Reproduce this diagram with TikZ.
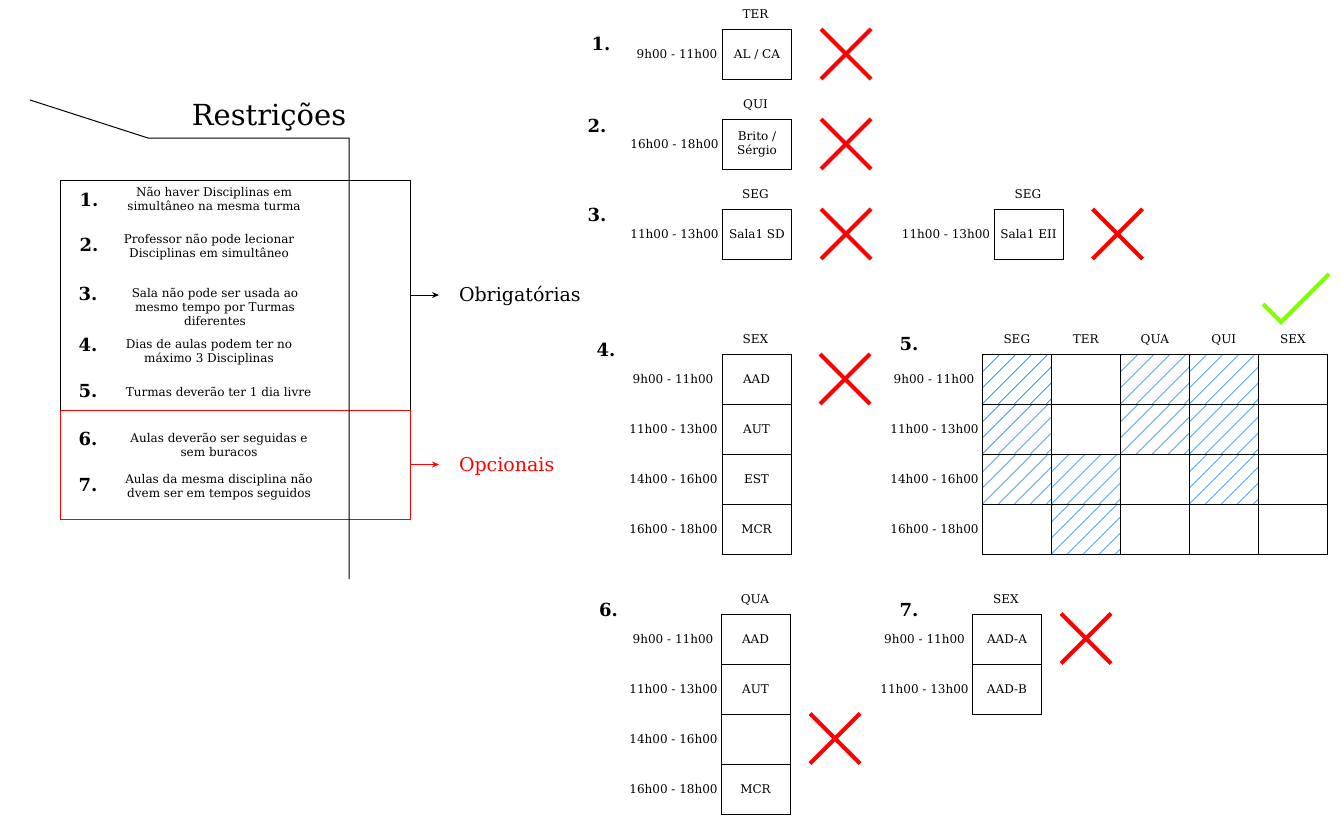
\documentclass[tikz,border=0pt]{standalone}
\usepackage{fontspec}
\setmainfont{DejaVu Serif}
\usetikzlibrary{arrows.meta,shapes.misc}
\definecolor{chk}{RGB}{128,255,0}
\definecolor{hatchblue}{RGB}{51,153,255}
\newcommand\hatchcell[2]{%
  \begin{scope}
    \clip (#1,#2) rectangle ++(69,50);
    \foreach \k in {-4,...,5} \draw[hatchln] (#1+\k*16,#2+50) -- ++(62,-62);
  \end{scope}}
\begin{document}
\begin{tikzpicture}[x=1pt,y=-1pt,line width=1pt,
  every node/.style={inner sep=0pt,outer sep=0pt},
  f12/.style={font=\fontsize{12}{14}\selectfont},
  lbl/.style={f12,text height=8.8pt,text depth=0pt},
  numlbl/.style={font=\fontsize{18}{20}\selectfont\bfseries,text height=13.1pt,text depth=0pt},
  itemtxt/.style={f12,align=center},
  biglbl/.style={font=\fontsize{19}{22}\selectfont,text height=13.9pt,text depth=0pt,anchor=west},
  cell/.style={draw,line width=1pt,minimum width=69pt,minimum height=50pt,f12,align=center},
  cellt/.style={cell,text height=8.8pt,text depth=0pt},
  xmark/.style={cross out,draw=red,line width=4pt,minimum size=50pt},
  hatchln/.style={draw=hatchblue,line width=0.8pt},
  arr/.style={-{Stealth[length=7pt,width=6pt]},shorten >=20pt}]
\useasboundingbox (0,0) rectangle (1342,822);

% ---------- left part ----------
\node[font=\fontsize{29}{34}\selectfont,anchor=base] (title) at (269,125) {Restrições};
\node[draw,minimum width=350pt,minimum height=230pt] (oblig) at (235,295) {};
\node[draw=red,minimum width=350pt,minimum height=109pt] (opc) at (235,464.5) {};
\draw (30,100) -- (148,138) -- (349,138) -- (349,579);

\node[numlbl] (n1) at (89,199.5) {1.};
\node[itemtxt] (t1) at (214,199) {Não haver Disciplinas em\\simultâneo na mesma turma};
\node[numlbl] (n2) at (89,244.5) {2.};
\node[itemtxt] (t2) at (209,247) {Professor não pode lecionar\\Disciplinas em simultâneo};
\node[numlbl] (n3) at (88,294) {3.};
\node[itemtxt] (t3) at (215,307) {Sala não pode ser usada ao\\mesmo tempo por Turmas\\diferentes};
\node[numlbl] (n4) at (88,344.5) {4.};
\node[itemtxt] (t4) at (209,352.5) {Dias de aulas podem ter no\\máximo 3 Disciplinas};
\node[numlbl] (n5) at (88,391) {5.};
\node[itemtxt] (t5) at (218.5,392) {Turmas deverão ter 1 dia livre};
\node[numlbl] (n6) at (88,439) {6.};
\node[itemtxt] (t6) at (219,444.5) {Aulas deverão ser seguidas e\\sem buracos};
\node[numlbl] (n7) at (88,484.5) {7.};
\node[itemtxt] (t7) at (219,487.5) {Aulas da mesma disciplina não\\dvem ser em tempos seguidos};

\node[biglbl] (oblbl) at (459,294.5) {Obrigatórias};
\node[biglbl,text=red] (oplbl) at (459,464.5) {Opcionais};
\draw[arr] (oblig.east) -- (oblig.east -| oblbl.west);
\draw[arr,red] (opc.east) -- (opc.east -| oplbl.west);

% ---------- item 1 ----------
\node[numlbl] (m1) at (601,44) {1.};
\node[lbl] (d1) at (755.5,14.5) {TER};
\node[lbl] (h1) at (677,54) {9h00 - 11h00};
\node[cellt] (c1) at (757,54) {AL / CA};
\node[xmark] (x1) at (846,54) {};

% ---------- item 2 ----------
\node[numlbl] (m2) at (597,126) {2.};
\node[lbl] (d2) at (755.5,104) {QUI};
\node[lbl] (h2) at (674.5,144) {16h00 - 18h00};
\node[cell] (c2) at (757,144) {Brito /\\Sérgio};
\node[xmark] (x2) at (846,144) {};

% ---------- item 3 ----------
\node[numlbl] (m3) at (597,215) {3.};
\node[lbl] (d3) at (755.5,194) {SEG};
\node[lbl] (h3) at (674.5,234) {11h00 - 13h00};
\node[cellt] (c3) at (757,234) {Sala1 SD};
\node[xmark] (x3) at (846,234) {};
\node[lbl] (d3b) at (1028,194) {SEG};
\node[lbl] (h3b) at (946,234) {11h00 - 13h00};
\node[cellt] (c3b) at (1028.5,234) {Sala1 EII};
\node[xmark] (x3b) at (1117.5,234) {};

% ---------- item 4 ----------
\node[numlbl] (m4) at (606,349.5) {4.};
\node[lbl] (d4) at (755.5,339.5) {SEX};
\node[lbl] (h4a) at (673,379) {9h00 - 11h00};
\node[lbl] (h4b) at (673.5,429) {11h00 - 13h00};
\node[lbl] (h4c) at (673.5,479) {14h00 - 16h00};
\node[lbl] (h4d) at (673.5,529) {16h00 - 18h00};
\node[cellt] (c4a) at (756.5,379) {AAD};
\node[cellt] (c4b) at (756.5,429) {AUT};
\node[cellt] (c4c) at (756.5,479) {EST};
\node[cellt] (c4d) at (756.5,529) {MCR};
\node[xmark] (x4) at (845,379) {};

% ---------- item 5 ----------
\node[numlbl] (m5) at (909,344) {5.};
\node[lbl] (gh0) at (1016.8,339) {SEG};
\node[lbl] (gh1) at (1085.8,339) {TER};
\node[lbl] (gh2) at (1154.8,339) {QUA};
\node[lbl] (gh3) at (1223.8,339) {QUI};
\node[lbl] (gh4) at (1292.8,339) {SEX};
\node[lbl] (h5a) at (934,379) {9h00 - 11h00};
\node[lbl] (h5b) at (934.5,429) {11h00 - 13h00};
\node[lbl] (h5c) at (934.5,479) {14h00 - 16h00};
\node[lbl] (h5d) at (934.5,529) {16h00 - 18h00};
\hatchcell{982.3}{354}
\hatchcell{982.3}{404}
\hatchcell{982.3}{454}
\hatchcell{1051.3}{454}
\hatchcell{1051.3}{504}
\hatchcell{1120.3}{354}
\hatchcell{1120.3}{404}
\hatchcell{1189.3}{354}
\hatchcell{1189.3}{404}
\hatchcell{1189.3}{454}
\foreach \k in {0,...,4}
  \foreach \r in {0,...,3}
    \node[cell] (g\k\r) at (1016.8+69*\k,379+50*\r) {};
\draw[draw=chk,line width=4pt] (1263,304) -- (1281,322) -- (1329,274);

% ---------- item 6 ----------
\node[numlbl] (m6) at (608.5,609.5) {6.};
\node[lbl] (d6) at (755,599.5) {QUA};
\node[lbl] (h6a) at (673,639) {9h00 - 11h00};
\node[lbl] (h6b) at (673.5,689) {11h00 - 13h00};
\node[lbl] (h6c) at (673.5,739) {14h00 - 16h00};
\node[lbl] (h6d) at (673.5,789) {16h00 - 18h00};
\node[cellt] (c6a) at (755.5,639) {AAD};
\node[cellt] (c6b) at (755.5,689) {AUT};
\node[cellt] (c6c) at (755.5,739) {};
\node[cellt] (c6d) at (755.5,789) {MCR};
\node[xmark] (x6) at (835,738.5) {};

% ---------- item 7 ----------
\node[numlbl] (m7) at (909,609.5) {7.};
\node[lbl] (d7) at (1006,599.5) {SEX};
\node[lbl] (h7a) at (924.5,639) {9h00 - 11h00};
\node[lbl] (h7b) at (924.5,689) {11h00 - 13h00};
\node[cellt] (c7a) at (1007,639) {AAD-A};
\node[cellt] (c7b) at (1007,689) {AAD-B};
\node[xmark] (x7) at (1086,638.5) {};
\end{tikzpicture}
\end{document}
